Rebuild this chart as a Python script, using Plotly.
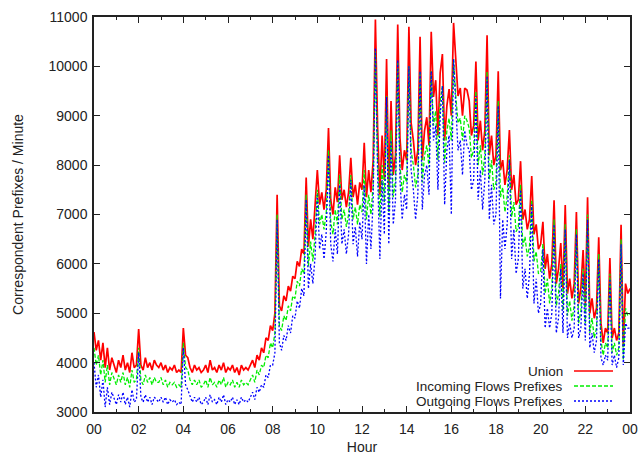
import plotly.graph_objects as go

# Sample times: every 6 minutes over one day (0..1440 min)
minutes = list(range(0, 1441, 6))

union = [
    4620, 4250, 4450, 4050, 4400, 3900, 4300, 3850, 4100, 3950,
    3800, 4050, 3900, 4150, 3850, 4000, 3800, 4200, 3900, 3950,
    4680, 3950, 3850, 4100, 3900, 4000, 3850, 4050, 3950, 3900,
    4000, 3850, 3950, 3800, 3900, 3850, 3950, 3800, 3850, 3800,
    4700, 4150, 4100, 3900, 3800, 3950, 3850, 3900, 3800, 3850,
    3950, 3800, 4050, 3850, 3900, 3800, 3950, 3850, 4000, 3800,
    3900, 3850, 3950, 3800, 3900, 3750, 3950, 3850, 3900, 3850,
    3950, 4050, 3900, 4150, 4050, 4300, 4200, 4500, 4450, 4750,
    4650, 5000, 7400, 5150, 5050, 5350, 5250, 5550, 5450, 5750,
    5700, 6050, 5950, 6300, 6200, 7750, 6350, 6900, 6500, 7100,
    7900, 7200, 7450, 7100, 7500, 8750, 7300, 7000, 7550, 7250,
    8200, 7300, 7500, 7150, 7450, 8150, 7350, 7600, 7200, 7650,
    7500, 8450, 7350, 7900, 7450, 8100, 10950, 8750, 7400, 8600,
    7700, 10150, 7500, 9300, 7800, 8200, 10850, 8550, 7900, 8300,
    8100, 10800, 8850, 8500, 8000, 8300, 10600, 8100, 8700, 8970,
    8400, 10700, 9380, 9720, 8600, 9870, 10250, 8500, 9200, 9540,
    9000, 10880, 10050, 9400, 9560, 9000, 9560, 9520, 9300, 8600,
    8800, 10100, 8500, 8900, 8300, 8700, 10630, 8200, 8600, 8000,
    8200, 9900, 7900, 8100, 7600, 7900, 8710, 7500, 7800, 7200,
    7300, 8080, 6900, 7100, 6700, 6900, 7780, 6600, 6800, 6300,
    6400, 6850, 5900, 6200, 5700, 6000, 7290, 5600, 5900, 6420,
    5500, 7190, 5400, 5700, 5300, 5600, 7050, 5200, 5500, 6280,
    5200, 7350, 5000, 5300, 4900, 5100, 6540, 4800, 4400, 4700,
    4600, 6120, 4500, 4700, 4450, 4600, 6790, 4320, 5600, 5400,
    5500,
]

incoming = [
    4300, 3950, 4150, 3750, 4050, 3600, 3950, 3550, 3800, 3650,
    3550, 3750, 3600, 3800, 3550, 3700, 3500, 3850, 3600, 3650,
    4300, 3650, 3550, 3750, 3600, 3700, 3550, 3700, 3600, 3600,
    3700, 3550, 3650, 3500, 3600, 3550, 3600, 3500, 3550, 3500,
    4400, 3900, 3850, 3650, 3550, 3650, 3550, 3650, 3500, 3550,
    3650, 3500, 3700, 3550, 3600, 3500, 3650, 3550, 3700, 3500,
    3600, 3550, 3650, 3500, 3600, 3500, 3650, 3550, 3600, 3550,
    3650, 3750, 3600, 3850, 3750, 3950, 3900, 4150, 4100, 4400,
    4300, 4600, 7000, 4750, 4650, 4950, 4850, 5150, 5050, 5350,
    5300, 5650, 5550, 5900, 5800, 7400, 5950, 6450, 6050, 6600,
    7500, 6800, 7000, 6700, 7050, 8300, 6850, 6600, 7100, 6800,
    7800, 6900, 7100, 6750, 7000, 7800, 6900, 7150, 6800, 7200,
    7050, 7900, 6900, 7400, 7000, 7600, 10300, 8100, 6950, 8000,
    7250, 9400, 7050, 8700, 7350, 7700, 10100, 8000, 7450, 7800,
    7650, 10000, 8300, 8000, 7550, 7800, 9900, 7650, 8200, 8400,
    7950, 9900, 8800, 9100, 8100, 9300, 9600, 8050, 8700, 8950,
    8500, 10150, 9400, 8850, 8950, 8500, 9000, 8900, 8750, 8150,
    8300, 9500, 8000, 8400, 7800, 8200, 9900, 7700, 8100, 7500,
    7650, 9300, 7350, 7550, 7050, 7350, 8200, 6950, 7250, 6650,
    6750, 7600, 6350, 6550, 6150, 6350, 7300, 6050, 6250, 5800,
    5850, 6400, 5400, 5700, 5200, 5500, 6900, 5150, 5400, 6000,
    5050, 6800, 4950, 5250, 4850, 5150, 6700, 4800, 5050, 5900,
    4800, 7000, 4600, 4900, 4500, 4700, 6200, 4450, 4150, 4400,
    4300, 5800, 4200, 4400, 4150, 4300, 6500, 4050, 5100, 4950,
    5000,
]

outgoing = [
    4000, 3500, 3750, 3300, 3650, 3100, 3500, 3150, 3400, 3250,
    3150, 3350, 3200, 3400, 3150, 3300, 3100, 3450, 3200, 3250,
    4200, 3300, 3200, 3350, 3200, 3300, 3150, 3300, 3250, 3200,
    3300, 3200, 3300, 3150, 3250, 3200, 3250, 3150, 3200, 3150,
    4300, 3550, 3450, 3300, 3200, 3300, 3200, 3300, 3150, 3200,
    3300, 3150, 3350, 3200, 3250, 3150, 3300, 3200, 3350, 3150,
    3250, 3200, 3300, 3150, 3250, 3150, 3300, 3200, 3250, 3200,
    3300, 3400, 3250, 3500, 3400, 3550, 3500, 3750, 3700, 3950,
    3950, 4200, 6900, 4400, 4250, 4550, 4450, 4750, 4600, 4950,
    4900, 5250, 5100, 5500, 5350, 7300, 5500, 6000, 5600, 6150,
    7400, 6300, 6600, 6100, 6650, 8200, 6400, 6050, 6700, 6200,
    7600, 6400, 6700, 6200, 6600, 7700, 6400, 6750, 6150, 6850,
    6500, 7600, 6000, 7000, 6300, 7300, 10370, 7800, 6100, 7700,
    6600, 9380, 6400, 8500, 6800, 7300, 10130, 7700, 6900, 7400,
    7100, 10000, 7900, 7500, 6900, 7400, 9900, 7100, 7800, 8000,
    7400, 9900, 8500, 8800, 7500, 9000, 9600, 7200, 8300, 8600,
    7000, 10150, 9200, 8300, 8500, 7800, 8700, 8400, 8300, 7500,
    7700, 9400, 7300, 7900, 7100, 7700, 9800, 6900, 7600, 6800,
    7000, 9200, 5300, 6900, 6300, 6800, 8100, 6100, 6700, 5800,
    6100, 7500, 5500, 5900, 5300, 5800, 7200, 5200, 5700, 5000,
    5200, 6300, 4700, 5100, 4700, 5000, 6800, 4600, 4900, 5900,
    4600, 6700, 4500, 4800, 4500, 4700, 6600, 4500, 4700, 5800,
    4450, 6900, 4300, 4600, 4200, 4450, 6100, 4100, 3950, 4150,
    4050, 5700, 3950, 4150, 3900, 4100, 6400, 3950, 4800, 4700,
    4700,
]

tick_hours = [0, 2, 4, 6, 8, 10, 12, 14, 16, 18, 20, 22, 24]
tick_labels = ["00", "02", "04", "06", "08", "10", "12", "14", "16", "18", "20", "22", "00"]

series_names = ["Union", "Incoming Flows Prefixes", "Outgoing Flows Prefixes"]
series_colors = ["#ff0000", "#00ee00", "#0000ff"]
series_dash = ["solid", "4px,2px", "2px,2px"]
series_width = [1.7, 1.3, 1.3]

hours = [m / 60.0 for m in minutes]

fig = go.Figure()
for name, vals, col, dsh, w in zip(series_names, [union, incoming, outgoing],
                                   series_colors, series_dash, series_width):
    fig.add_trace(go.Scatter(x=hours, y=vals, mode="lines", name=name,
                             line=dict(color=col, width=w, dash=dsh),
                             showlegend=False))

# gnuplot-style key: text right-aligned, line sample to the right
key_y = [371, 386, 401]
for i, (name, col, dsh, w) in enumerate(zip(series_names, series_colors, series_dash, series_width)):
    yp = 1 - (key_y[i] - 17) / 395.0
    fig.add_annotation(x=(564 - 94) / 536.0, y=yp, xref="paper", yref="paper",
                       text=name, showarrow=False, xanchor="right", yanchor="middle",
                       height=15, borderpad=0, valign="middle",
                       font=dict(size=13.5, color="#222"))
    fig.add_shape(type="line", xref="paper", yref="paper", layer="above",
                  x0=(574 - 94) / 536.0, x1=(613 - 94) / 536.0, y0=yp, y1=yp,
                  line=dict(color=col, width=w, dash=dsh))

axis_common = dict(showline=True, mirror="ticks", linecolor="#222", linewidth=1.5,
                   ticks="inside", tickcolor="#222", ticklen=6, showgrid=False,
                   zeroline=False, automargin=False,
                   tickfont=dict(size=14, color="#222"))

fig.update_xaxes(range=[0, 24], tickvals=tick_hours, ticktext=tick_labels,
                 ticklabelstandoff=3,
                 title=dict(text="Hour", font=dict(size=14, color="#222"), standoff=8),
                 minor=dict(ticks="inside", ticklen=3, dtick=1, tickcolor="#222"),
                 **axis_common)
fig.update_yaxes(range=[3000, 11000], dtick=1000, tickformat="d",
                 ticklabelstandoff=2,
                 title=dict(text="Correspondent Prefixes / Minute",
                            font=dict(size=14, color="#222"), standoff=22),
                 **axis_common)

fig.update_layout(width=642, height=455, plot_bgcolor="white", paper_bgcolor="white",
                  margin=dict(l=94, r=12, t=17, b=43),
                  font=dict(family="Liberation Sans, Arial, sans-serif", size=14, color="#222"))

fig.write_html("out.html")
